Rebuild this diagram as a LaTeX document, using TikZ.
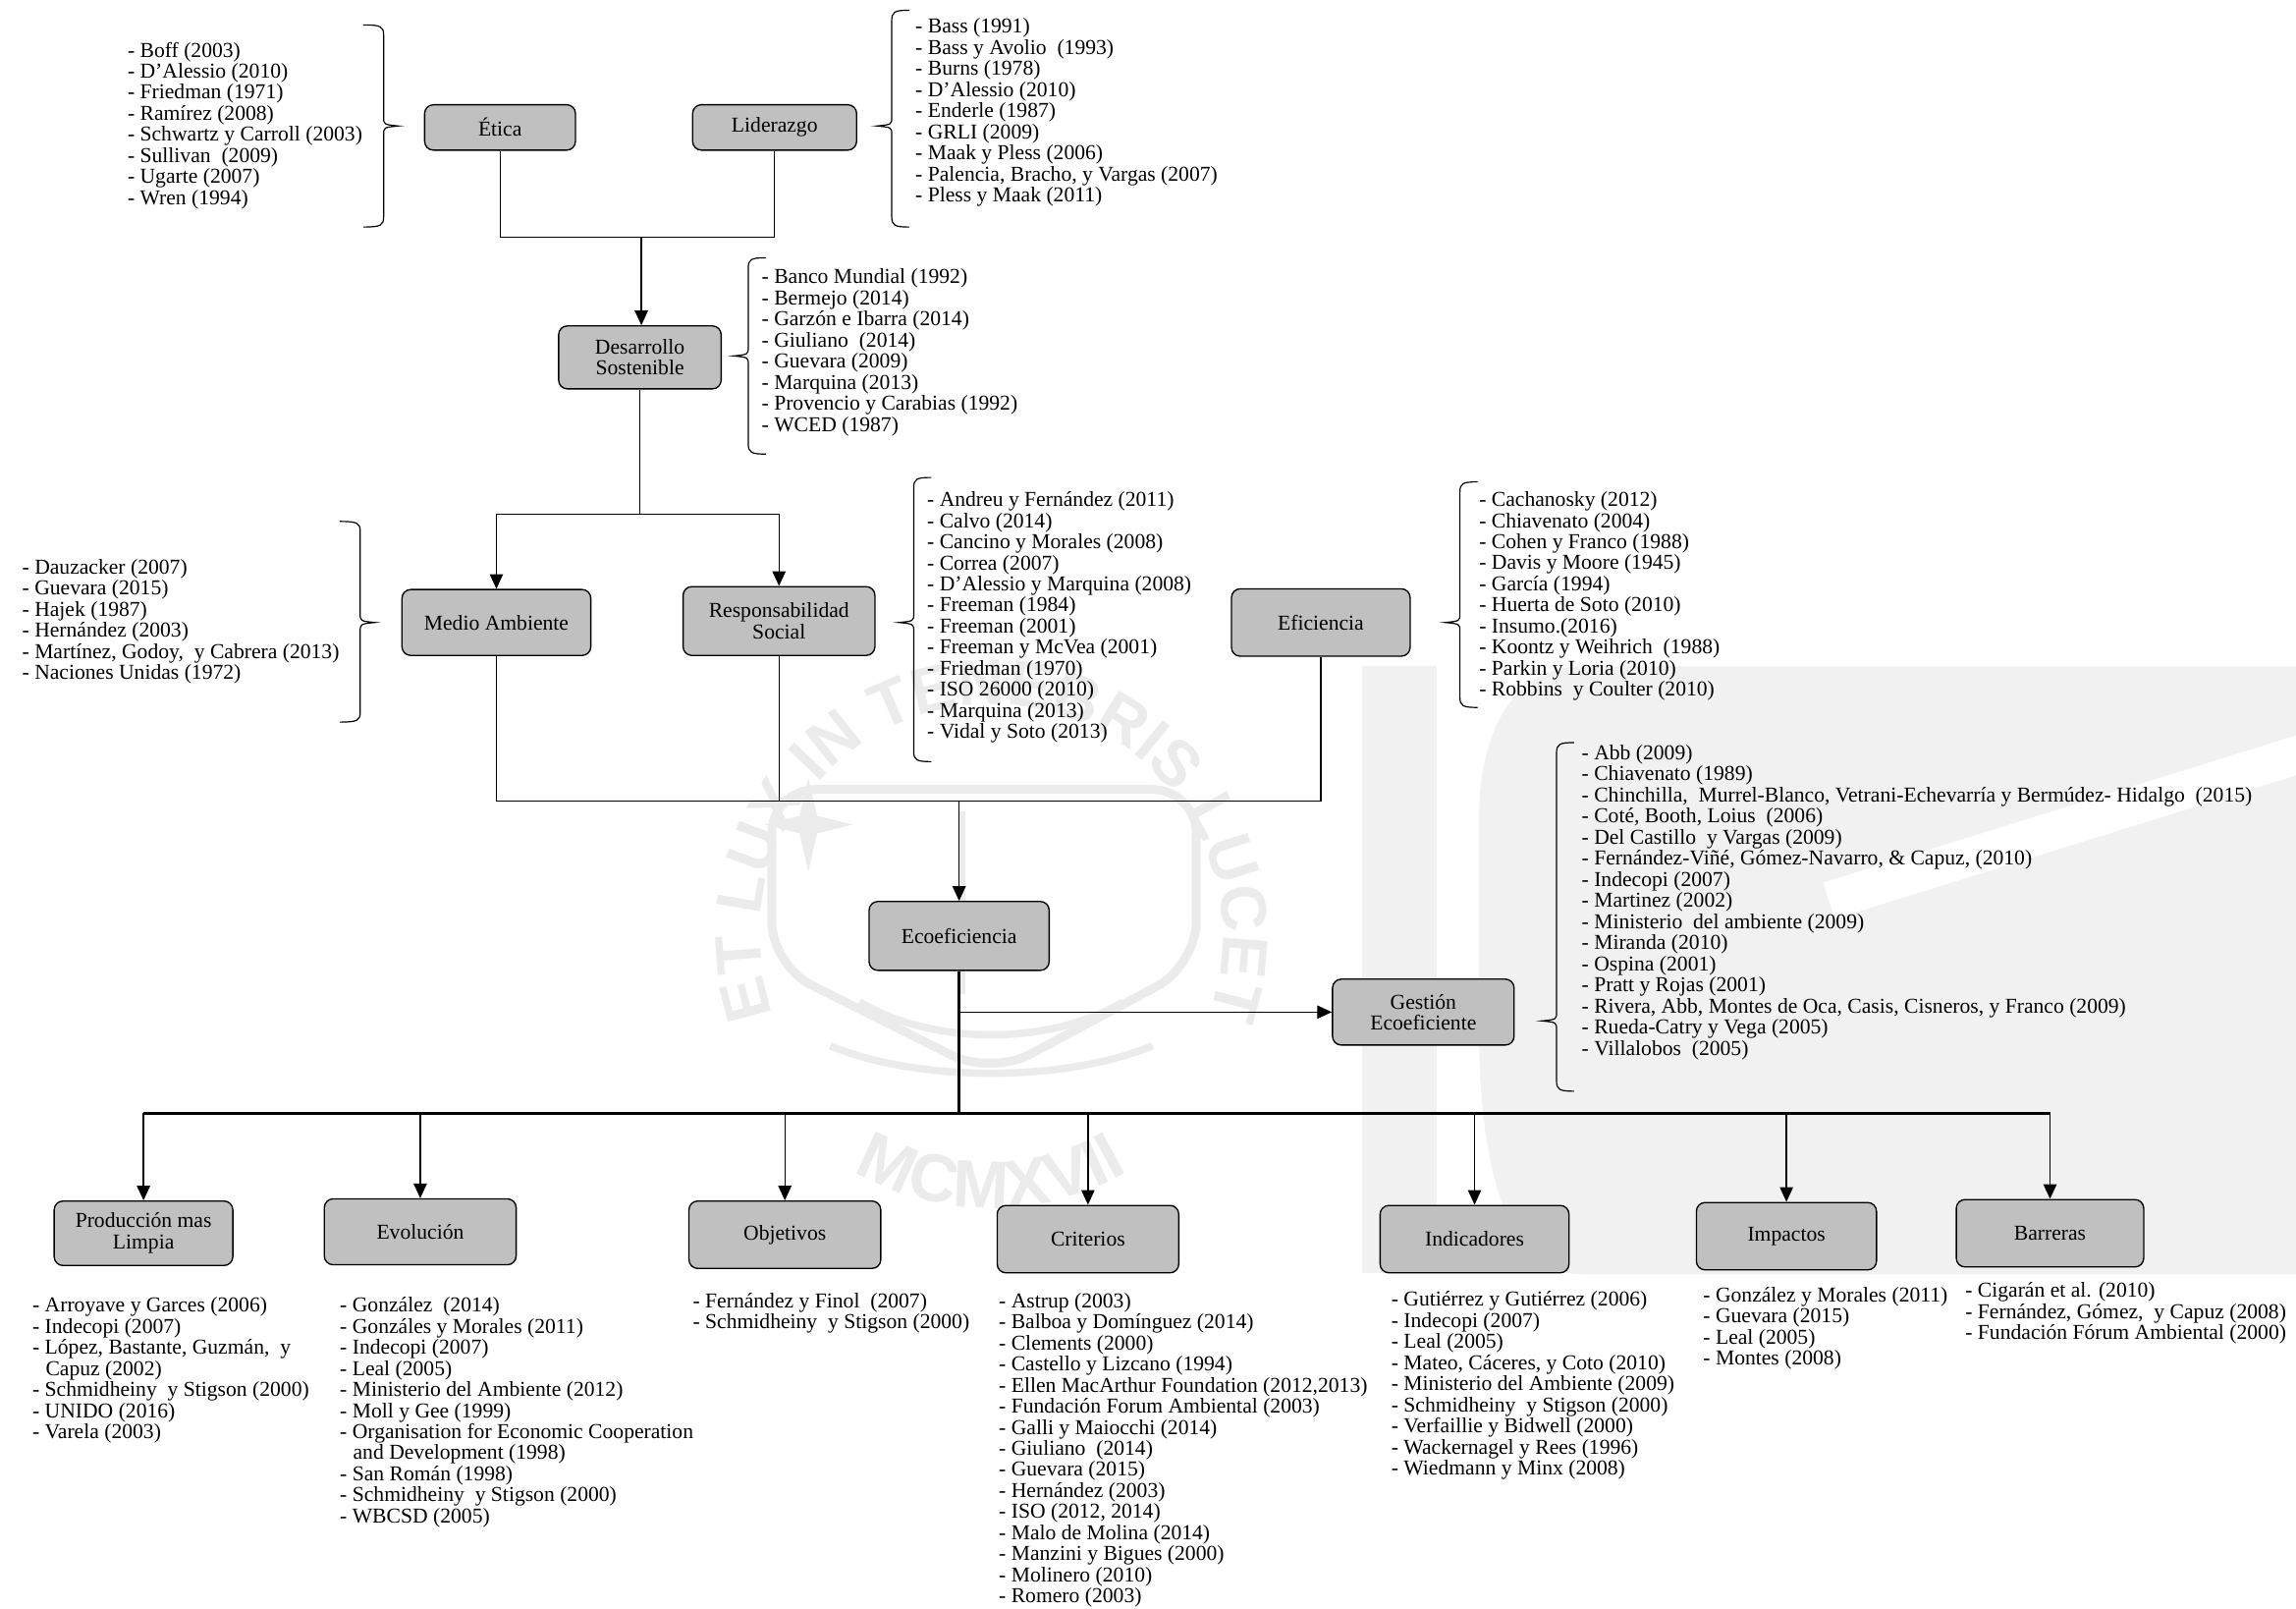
\documentclass[tikz,border=0pt]{standalone}
\usepackage{fontspec}
\setmainfont{Liberation Serif}
\newfontfamily\wmff{Liberation Sans Bold}
\usetikzlibrary{arrows.meta,decorations.text}
\definecolor{boxgray}{HTML}{C0C0C0}
\definecolor{wm}{HTML}{EBEBEB}
\definecolor{wmlight}{HTML}{F1F1F1}
\newcommand{\myfs}{\fontsize{14.5pt}{14.4pt}\selectfont}
\newcommand{\wmfont}{\wmff\fontsize{44pt}{44pt}\selectfont}
\newcommand{\wmfontb}{\wmff\fontsize{46pt}{46pt}\selectfont}
% "{" brace: body x, top y, tip y, bottom y
\newcommand{\mybrL}[4]{%
  \draw[brc] (#1+12,#2) .. controls (#1+2,#2) and (#1,#2+1) .. (#1,#2+7) -- (#1,#3-6)
    .. controls (#1,#3-1) .. (#1-10,#3) .. controls (#1,#3+1) .. (#1,#3+6)
    -- (#1,#4-7) .. controls (#1,#4-1) and (#1+2,#4) .. (#1+12,#4);}
% "}" brace: body x, top y, tip y, bottom y
\newcommand{\mybrR}[4]{%
  \draw[brc] (#1-14,#2) .. controls (#1-2,#2) and (#1,#2+1) .. (#1,#2+7) -- (#1,#3-6)
    .. controls (#1,#3-1) .. (#1+10,#3) .. controls (#1,#3+1) .. (#1,#3+6)
    -- (#1,#4-7) .. controls (#1,#4-1) and (#1-2,#4) .. (#1-14,#4);}
\begin{document}
\begin{tikzpicture}[x=1pt,y=-1pt,
  every node/.style={font=\myfs},
  cbox/.style={draw, fill=boxgray, rounded corners=6pt, line width=0.9pt, inner sep=0pt, align=center},
  reflist/.style={anchor=north west, inner sep=0pt, align=left},
  conn/.style={line width=0.9pt},
  boldconn/.style={line width=1.8pt},
  arr/.style={conn, -{Triangle[length=10pt,width=9pt]}},
  brc/.style={line width=0.8pt}]
\useasboundingbox (0,0) rectangle (1568,1097.9);
\fill[white] (0,0) rectangle (1568,1097.9);

% ---------- watermark ----------
\fill[wmlight] (930,455) rectangle (981,869);
\fill[wmlight] (1080,455) -- (1568,455) -- (1568,870) -- (1080,870)
  .. controls (1030,870) and (1010,800) .. (1010,700) -- (1010,560)
  .. controls (1010,490) and (1040,455) .. (1080,455) -- cycle;
\draw[white, line width=26pt] (1249,615) -- (1580,512);
\begin{scope}[shift={(677,639)}, y=1pt]
  \path[decorate, decoration={text along path, text={|\wmfont|ET LUX IN TENEBRIS LUCET}, text color=wm, text align=center}]
    (220:158) arc[start angle=220, end angle=-40, radius=158];
  \path[decorate, decoration={text along path, text={|\wmfontb|MCMXVII}, text color=wm, text align=center}]
    (215:186) arc[start angle=215, end angle=325, radius=186];
  \draw[wm, line width=6pt, rounded corners=30pt] (-150,100) -- (140,100) -- (140,-20) -- (0,-95) -- (-150,-20) -- cycle;
  \fill[wm] (-125,76) -- (-119,82) -- (-125,108) -- (-131,82) -- (-155,76) -- (-131,70) -- (-125,44) -- (-119,70) -- (-95,76) -- (-119,82) -- cycle;
  \draw[wm, line width=5pt] (-20,85) -- (-20,-40);
  \draw[wm, line width=5pt] (-90,-45) .. controls (-40,-75) and (40,-75) .. (90,-45);
  \draw[wm, line width=5pt] (-110,-75) .. controls (-50,-100) and (50,-100) .. (110,-75);
\end{scope}

% ---------- boxes ----------
\node[cbox, minimum width=103pt, minimum height=31pt] (etica) at (341.5,87) {Ética};
\node[cbox, minimum width=112pt, minimum height=31pt] (lider) at (529,87) {Liderazgo};
\node[cbox, minimum width=111pt, minimum height=43pt] (desa) at (437,244) {Desarrollo\\Sostenible};
\node[cbox, minimum width=129pt, minimum height=45pt] (medio) at (339,425) {Medio Ambiente};
\node[cbox, minimum width=131pt, minimum height=47pt] (resp) at (532,424) {Responsabilidad\\Social};
\node[cbox, minimum width=122pt, minimum height=46pt] (efic) at (902,425) {Eficiencia};
\node[cbox, minimum width=123pt, minimum height=47pt] (eco) at (655,639) {Ecoeficiencia};
\node[cbox, minimum width=124pt, minimum height=45pt] (gest) at (972,691) {Gestión\\Ecoeficiente};
\node[cbox, minimum width=122pt, minimum height=44pt] (prod) at (98,842) {Producción mas\\Limpia};
\node[cbox, minimum width=131pt, minimum height=45pt] (evol) at (287,841) {Evolución};
\node[cbox, minimum width=131pt, minimum height=46pt] (obj) at (536,843) {Objetivos};
\node[cbox, minimum width=124pt, minimum height=46pt] (crit) at (743,846) {Criterios};
\node[cbox, minimum width=129pt, minimum height=46pt] (ind) at (1007,846) {Indicadores};
\node[cbox, minimum width=123pt, minimum height=46pt] (imp) at (1220,844) {Impactos};
\node[cbox, minimum width=128pt, minimum height=46pt] (barr) at (1400,842) {Barreras};

% ---------- connectors ----------
\coordinate (j1) at (438,162);
\draw[conn] (etica.south) |- (j1) -| (lider.south);
\draw[arr] (j1) -- (j1 |- desa.north);
\coordinate (j2) at (437,351);
\draw[conn] (desa.south) -- (j2);
\draw[arr] (j2) -| (medio.north);
\draw[arr] (j2) -| (resp.north);
\coordinate (j3) at (655,547);
\draw[conn] (medio.south) |- (j3) -| (efic.south);
\draw[conn] (resp.south) -- (resp.south |- j3);
\draw[arr] (j3) -- (eco.north);
\coordinate (j5) at (655,691);
\coordinate (j4) at (655,760);
\draw[boldconn] (eco.south) -- (j4);
\draw[arr] (j5) -- (gest.west);
\draw[boldconn] (prod.north |- j4) -- (barr.north |- j4);
\foreach \n in {prod,evol,obj,crit,ind,imp,barr}
  \draw[arr] (\n.north |- j4) -- (\n.north);

% ---------- braces ----------
\mybrR{262}{17}{86}{155}
\mybrL{609}{7}{86}{155}
\mybrL{511}{176}{243}{310}
\mybrR{246}{356}{425}{493}
\mybrL{624}{326}{425}{520}
\mybrL{997}{329}{425}{483}
\mybrL{1063}{507}{697}{745}

% ---------- reference lists ----------
\node[reflist] (letica) at (87,28.5) {- Boff (2003)\\- D'Alessio (2010)\\- Friedman (1971)\\- Ramírez (2008)\\- Schwartz y Carroll (2003)\\- Sullivan~ (2009)\\- Ugarte (2007)\\- Wren (1994)};
\node[reflist] (llider) at (625,12.5) {- Bass (1991)\\- Bass y Avolio~ (1993)\\- Burns (1978)\\- D'Alessio (2010)\\- Enderle (1987)\\- GRLI (2009)\\- Maak y Pless (2006)\\- Palencia, Bracho, y Vargas (2007)\\- Pless y Maak (2011)};
\node[reflist] (ldesa) at (520,183.5) {- Banco Mundial (1992)\\- Bermejo (2014)\\- Garzón e Ibarra (2014)\\- Giuliano~ (2014)\\- Guevara (2009)\\- Marquina (2013)\\- Provencio y Carabias (1992)\\- WCED (1987)};
\node[reflist] (lmedio) at (15,381.5) {- Dauzacker (2007)\\- Guevara (2015)\\- Hajek (1987)\\- Hernández (2003)\\- Martínez, Godoy,~ y Cabrera (2013)\\- Naciones Unidas (1972)};
\node[reflist] (lresp) at (633,335.5) {- Andreu y Fernández (2011)\\- Calvo (2014)\\- Cancino y Morales (2008)\\- Correa (2007)\\- D’Alessio y Marquina (2008)\\- Freeman (1984)\\- Freeman (2001)\\- Freeman y McVea (2001)\\- Friedman (1970)\\- ISO 26000 (2010)\\- Marquina (2013)\\- Vidal y Soto (2013)};
\node[reflist] (lefic) at (1010,335.5) {- Cachanosky (2012)\\- Chiavenato (2004)\\- Cohen y Franco (1988)\\- Davis y Moore (1945)\\- García (1994)\\- Huerta de Soto (2010)\\- Insumo.(2016)\\- Koontz y Weihrich~ (1988)\\- Parkin y Loria (2010)\\- Robbins~ y Coulter (2010)};
\node[reflist] (lgest) at (1080,508.5) {- Abb (2009)\\- Chiavenato (1989)\\- Chinchilla,~ Murrel-Blanco, Vetrani-Echevarría y Bermúdez- Hidalgo~ (2015)\\- Coté, Booth, Loius~ (2006)\\- Del Castillo~ y Vargas (2009)\\- Fernández-Viñé, Gómez-Navarro, \& Capuz, (2010)\\- Indecopi (2007)\\- Martinez (2002)\\- Ministerio~ del ambiente (2009)\\- Miranda (2010)\\- Ospina (2001)\\- Pratt y Rojas (2001)\\- Rivera, Abb, Montes de Oca, Casis, Cisneros, y Franco (2009)\\- Rueda-Catry y Vega (2005)\\- Villalobos~ (2005)};
\node[reflist] (lprod) at (22,885.5) {- Arroyave y Garces (2006)\\- Indecopi (2007)\\- López, Bastante, Guzmán,~ y\\\hspace*{9pt}Capuz (2002)\\- Schmidheiny~ y Stigson (2000)\\- UNIDO (2016)\\- Varela (2003)};
\node[reflist] (levol) at (232,885.5) {- González~ (2014)\\- Gonzáles y Morales (2011)\\- Indecopi (2007)\\- Leal (2005)\\- Ministerio del Ambiente (2012)\\- Moll y Gee (1999)\\- Organisation for Economic Cooperation\\\hspace*{9pt}and Development (1998)\\- San Román (1998)\\- Schmidheiny~ y Stigson (2000)\\- WBCSD (2005)};
\node[reflist] (lobj) at (473,882.5) {- Fernández y Finol~ (2007)\\- Schmidheiny~ y Stigson (2000)};
\node[reflist] (lcrit) at (682,882.5) {- Astrup (2003)\\- Balboa y Domínguez (2014)\\- Clements (2000)\\- Castello y Lizcano (1994)\\- Ellen MacArthur Foundation (2012,2013)\\- Fundación Forum Ambiental (2003)\\- Galli y Maiocchi (2014)\\- Giuliano~ (2014)\\- Guevara (2015)\\- Hernández (2003)\\- ISO (2012, 2014)\\- Malo de Molina (2014)\\- Manzini y Bigues (2000)\\- Molinero (2010)\\- Romero (2003)};
\node[reflist] (lind) at (950,881.5) {- Gutiérrez y Gutiérrez (2006)\\- Indecopi (2007)\\- Leal (2005)\\- Mateo, Cáceres, y Coto (2010)\\- Ministerio del Ambiente (2009)\\- Schmidheiny~ y Stigson (2000)\\- Verfaillie y Bidwell (2000)\\- Wackernagel y Rees (1996)\\- Wiedmann y Minx (2008)};
\node[reflist] (limp) at (1163,878.5) {- González y Morales (2011)\\- Guevara (2015)\\- Leal (2005)\\- Montes (2008)};
\node[reflist] (lbarr) at (1342,875.5) {- Cigarán et al. (2010)\\- Fernández, Gómez,~ y Capuz (2008)\\- Fundación Fórum Ambiental (2000)};
\end{tikzpicture}
\end{document}
